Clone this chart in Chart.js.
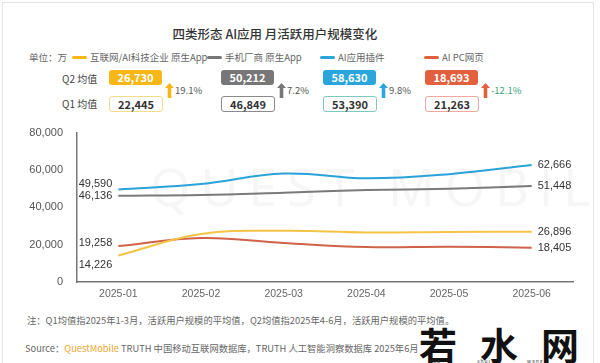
<!DOCTYPE html>
<html>
<head>
<meta charset="UTF-8" />
<title>AI应用 月活跃用户规模变化</title>
<script src="https://cdn.jsdelivr.net/npm/chart.js"></script>
<style>
  body { margin: 0; width: 600px; height: 363px; overflow: hidden; background: #fff; font-family: "Noto Sans CJK SC", "Noto Sans", sans-serif; position: relative; }
  .abs { position: absolute; white-space: nowrap; }
  .frame { position: absolute; left: 2px; top: 2px; width: 590px; height: 370px; border: 1px solid #e4e4e4; }
  .title { left: 0; width: 550px; top: 24px; text-align: center; font-size: 12.5px; font-weight: 500; color: #333; }
  .legend { top: 50px; font-size: 9.5px; color: #666; line-height: 14px; }
  .swatch { display: inline-block; width: 15px; height: 3px; border-radius: 2px; vertical-align: middle; margin-right: 3px; margin-top: -2px; }
  .rowlab { font-size: 10px; color: #444; }
  .box { width: 53px; height: 15px; border-radius: 3px; font-size: 11px; font-weight: bold; text-align: center; line-height: 15px; }
  .q1 { background: #fff; color: #333; border: 1px solid; width: 52px; height: 14px; line-height: 14px; }
  .pct { font-size: 9.5px; color: #555; }
  .arrow { width: 9px; height: 15px; }
  .note { font-size: 9.3px; color: #666; }
  .wm { left: 419px; top: 325px; font-size: 38px; line-height: 38px; font-weight: bold; color: #111; letter-spacing: 23px; }
  .wm2 { left: 430px; top: 358px; font-size: 5px; line-height: 5px; color: #333; letter-spacing: 1px; word-spacing: 34px; }
  .faint { left: 150px; top: 150px; font-size: 52px; letter-spacing: 10px; color: #f6f6f6; font-family: "Open Sans", sans-serif; }
</style>
</head>
<body>
<div class="frame"></div>
<div class="abs faint">QUEST MOBILE</div>
<div class="abs title">四类形态 AI应用 月活跃用户规模变化</div>
<div class="abs legend" style="left:29px">单位：万</div>
<div id="legend"></div>
<div class="abs rowlab" style="left:62px; top:71px">Q2 均值</div>
<div class="abs rowlab" style="left:62px; top:96px">Q1 均值</div>
<div id="cards"></div>
<div class="abs" style="left:0; top:112px; width:600px; height:193px"><canvas id="chart"></canvas></div>
<div class="abs note" style="left:27px; top:313px">注：Q1均值指2025年1-3月，活跃用户规模的平均值，Q2均值指2025年4-6月，活跃用户规模的平均值。</div>
<div class="abs note" style="left:25px; top:341px">Source：<span style="color:#f0a830">QuestMobile</span> TRUTH 中国移动互联网数据库，TRUTH 人工智能洞察数据库 2025年6月</div>
<div class="abs wm">若水网</div>
<div class="abs wm2">ruo shui wang</div>

<script>
const months = ['2025-01', '2025-02', '2025-03', '2025-04', '2025-05', '2025-06'];
const seriesNames = ['互联网/AI科技企业 原生App', '手机厂商 原生App', 'AI应用插件', 'AI PC网页'];
const internetApp = [14226, 25700, 27409, 26500, 26794, 26896];
const phoneApp = [46136, 46600, 47811, 49200, 49988, 51448];
const aiPlugin = [49590, 52500, 58080, 55500, 57724, 62666];
const aiPcWeb = [19258, 23600, 20931, 18750, 18924, 18405];
const q2Avg = ['26,730', '50,212', '58,630', '18,693'];
const q1Avg = ['22,445', '46,849', '53,390', '21,263'];
const changes = ['19.1%', '7.2%', '9.8%', '-12.1%'];
const yTicks = [0, 20000, 40000, 60000, 80000];

const colors = ['#f7b718', '#777777', '#2ba6dc', '#e2603e'];
const lineColors = ['#f6c445', '#7a7a7a', '#2aa3d8', '#d0624a'];
const q1Borders = ['#f3dc8a', '#8a8a8a', '#7fc8c0', '#f0a898'];
const legendX = [72, 207, 320, 424];
const cardX = [109, 221, 323, 425];

// header legend and average cards
let html = '';
seriesNames.forEach((n, i) => {
  html += `<div class="abs legend" style="left:${legendX[i]}px"><span class="swatch" style="background:${colors[i]}"></span>${n}</div>`;
});
document.getElementById('legend').innerHTML = html;

html = '';
q2Avg.forEach((v, i) => {
  const x = cardX[i];
  const down = changes[i].startsWith('-');
  html += `<div class="abs box" style="left:${x}px; top:70px; background:${colors[i]}; color:#fff">${v}</div>`;
  html += `<div class="abs box q1" style="left:${x}px; top:96px; border-color:${q1Borders[i]}">${q1Avg[i]}</div>`;
  html += `<svg class="abs arrow" style="left:${x + 56}px; top:83px" viewBox="0 0 9 15"><path d="M4.5 0 L9 5 L6.3 5 L6.3 15 L2.7 15 L2.7 5 L0 5 Z" fill="${colors[i]}"/></svg>`;
  html += `<div class="abs pct" style="left:${x + 66}px; top:83px; ${down ? 'color:#3aa37c' : ''}">${changes[i]}</div>`;
});
document.getElementById('cards').innerHTML = html;

const allSeries = [internetApp, phoneApp, aiPlugin, aiPcWeb];

// first and last value labels
const endLabels = {
  id: 'endLabels',
  afterDatasetsDraw(chart) {
    const ctx = chart.ctx;
    const x = chart.scales.x, y = chart.scales.y;
    ctx.save();
    ctx.font = '11px "Liberation Sans", Arial, sans-serif';
    ctx.fillStyle = '#333';
    ctx.textBaseline = 'middle';
    const leftOffY = { 0: 10, 1: 0, 2: -5, 3: -3 };
    chart.data.datasets.forEach((ds, i) => {
      const d = ds.data;
      ctx.textAlign = 'right';
      ctx.fillText(d[0].toLocaleString('en-US'), x.getPixelForValue(0) - 6, y.getPixelForValue(d[0]) + leftOffY[i]);
      ctx.textAlign = 'left';
      const last = d.length - 1;
      ctx.fillText(d[last].toLocaleString('en-US'), x.getPixelForValue(last) + 6, y.getPixelForValue(d[last]));
    });
    ctx.restore();
  }
};

new Chart(document.getElementById('chart'), {
  type: 'line',
  data: {
    labels: months,
    datasets: allSeries.map((d, i) => ({
      label: seriesNames[i],
      data: d,
      borderColor: lineColors[i],
      borderWidth: 2,
      pointRadius: 0,
      tension: 0.4,
      fill: false
    }))
  },
  options: {
    responsive: true,
    maintainAspectRatio: false,
    animation: false,
    layout: { padding: { top: 11, right: 27, left: 0, bottom: 0 } },
    plugins: { legend: { display: false }, tooltip: { enabled: false } },
    scales: {
      x: {
        offset: true,
        grid: { display: false, drawTicks: false },
        border: { color: '#777', width: 1.5 },
        ticks: { color: '#666', font: { size: 10.5, family: '"Liberation Sans", Arial, sans-serif' }, padding: 6, maxRotation: 0 },
        afterFit: s => { s.height = 23; }
      },
      y: {
        min: 0,
        max: 80000,
        afterBuildTicks: s => { s.ticks = yTicks.map(v => ({ value: v })); },
        grid: { display: false, drawTicks: false },
        border: { color: '#777', width: 1.5 },
        ticks: { color: '#555', font: { size: 11, family: '"Liberation Sans", Arial, sans-serif' }, padding: 14,
                 callback: v => v.toLocaleString('en-US') },
        afterFit: s => { s.width = 77; }
      }
    }
  },
  plugins: [endLabels]
});
</script>
</body>
</html>
